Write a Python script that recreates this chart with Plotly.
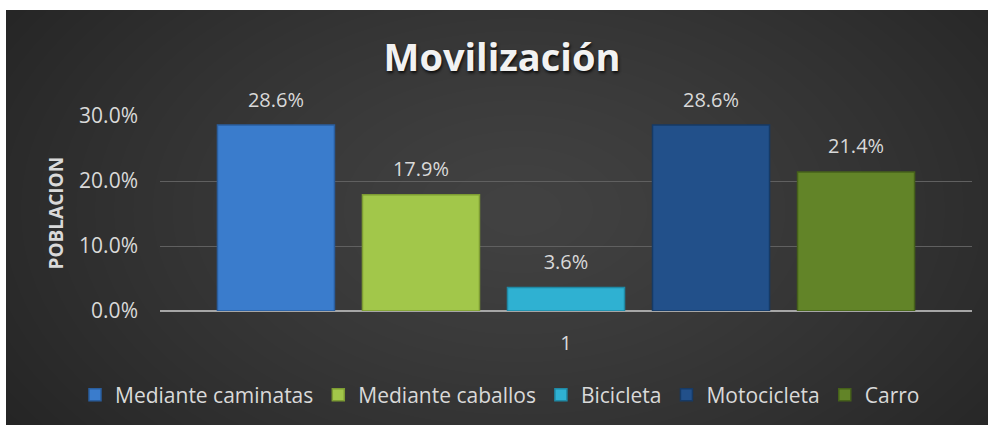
import plotly.graph_objects as go

# ---- data ----
categories = ["1"]
series_names = ["Mediante caminatas", "Mediante caballos", "Bicicleta", "Motocicleta", "Carro"]
series_values = [0.286, 0.179, 0.036, 0.286, 0.214]
series_colors = ["#3a7ccc", "#a2c74a", "#2fb1d2", "#22508a", "#628428"]
edge_colors = ["#2a5e9e", "#7d9c33", "#1f8aa6", "#163a66", "#46611a"]
y_tick_values = [0.0, 0.1, 0.2, 0.3]
title_text = "Movilización"
y_title = "POBLACION"

W, H = 988, 425
ML, MR, MT, MB = 160, 16, 116, 114
PW = W - ML - MR
PH = H - MT - MB


def px_x(px):
    return (px - ML) / PW


def px_y(py):
    return (H - MB - py) / PH


FONT = "Open Sans"
TXT = "#d9d9d9"

fig = go.Figure()
for name, v, c, ec in zip(series_names, series_values, series_colors, edge_colors):
    fig.add_trace(go.Bar(
        x=categories, y=[v], name=name,
        marker=dict(color=c, line=dict(color=ec, width=1.5)),
        hoverinfo="skip",
    ))
for name, v in zip(series_names, series_values):
    fig.add_trace(go.Scatter(
        x=categories, y=[v], mode="markers+text", showlegend=False,
        text=[f"{v*100:.1f}%"], textposition="top center",
        marker=dict(size=20, color="rgba(0,0,0,0)"),
        textfont=dict(family=FONT, size=20, color=TXT),
        hoverinfo="skip", cliponaxis=False,
    ))

# background: dark panel with soft radial glow
shapes = [dict(type="rect", xref="paper", yref="paper", layer="below",
               x0=px_x(6), x1=px_x(W + 2), y0=px_y(H + 2), y1=px_y(10),
               fillcolor="#232323", line=dict(width=0))]
cx, cy = 520, 210
n = 30
for i in range(n):
    f = (1 - i / n) ** 0.8
    rx, ry = 640 * f, 400 * f
    shapes.append(dict(type="circle", xref="paper", yref="paper", layer="below",
                       x0=px_x(cx - rx), x1=px_x(cx + rx),
                       y0=px_y(cy + ry), y1=px_y(cy - ry),
                       fillcolor="rgba(255,255,255,0.0098)", line=dict(width=0)))
# keep the outer white frame white
shapes.append(dict(type="rect", xref="paper", yref="paper", layer="below",
                   x0=px_x(-50), x1=px_x(6), y0=px_y(H + 50), y1=px_y(-50),
                   fillcolor="white", line=dict(width=0)))
shapes.append(dict(type="rect", xref="paper", yref="paper", layer="below",
                   x0=px_x(-50), x1=px_x(W + 50), y0=px_y(10), y1=px_y(-50),
                   fillcolor="white", line=dict(width=0)))

fig.update_layout(
    width=W, height=H,
    margin=dict(l=ML, r=MR, t=MT, b=MB, autoexpand=False),
    paper_bgcolor="white", plot_bgcolor="rgba(0,0,0,0)",
    barmode="group", bargap=0.107, bargroupgap=0.193,
    scattermode="group", scattergap=0.107,
    shapes=shapes,
    title=dict(text=f"<b>{title_text}</b>", x=502 / W, xanchor="center",
               y=1 - 58 / H, yanchor="middle", yref="container",
               font=dict(family=FONT, size=38, color="#f2f2f2",
                         shadow="1px 2px 3px rgba(0,0,0,0.8)")),
    legend=dict(orientation="h", xref="paper", yref="paper",
                x=px_x(75), xanchor="left",
                y=px_y(395), yanchor="middle",
                font=dict(family=FONT, size=21, color=TXT),
                bgcolor="rgba(0,0,0,0)"),
    showlegend=True,
    annotations=[dict(text=f"<b>{y_title}</b>", xref="paper", yref="paper",
                      x=px_x(55), y=0.5, textangle=-90, showarrow=False,
                      xanchor="center", yanchor="middle",
                      font=dict(family=FONT, size=19, color=TXT))],
)
fig.update_yaxes(range=[0, 0.3], tickvals=y_tick_values, tickformat=".1%",
                 showgrid=True, gridcolor="#606060", gridwidth=1,
                 zeroline=True, zerolinecolor="#a6a6a6", zerolinewidth=2,
                 tickfont=dict(family=FONT, size=21, color=TXT),
                 ticklabelstandoff=21, showline=False)
fig.update_xaxes(type="category", showgrid=False, showline=False,
                 tickfont=dict(family=FONT, size=20, color=TXT),
                 ticklabelstandoff=18)

fig.write_html("out.html", config={"displayModeBar": False},
               post_script="document.body.style.margin='0';document.body.style.overflow='hidden';")
